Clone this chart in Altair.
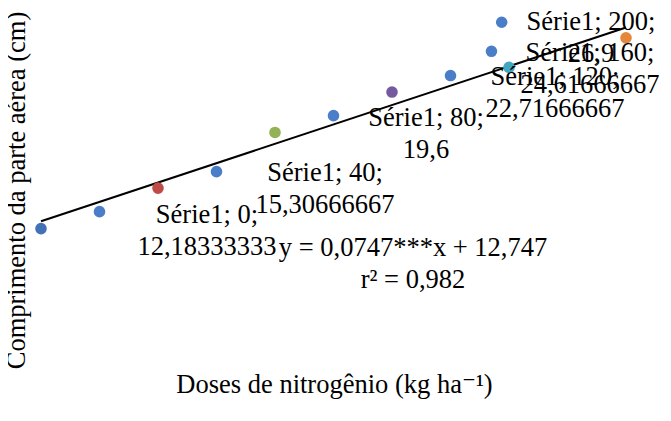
import altair as alt
import pandas as pd

# Série1 (colour-varied points, basis of the trend line)
doses = [0, 40, 80, 120, 160, 200]
comprimento = [12.18333333, 15.30666667, 19.6, 22.71666667, 24.61666667, 26.9]
serie_colors = ["#4172b5", "#be4b48", "#93b155", "#75599f", "#43a6bf", "#e5873a"]

# additional blue points
extra_doses = [20, 60, 100, 140, 154, 157.5]
extra_comprimento = [13.49, 16.58, 20.90, 23.99, 25.86, 28.1]
extra_color = "#4a7ec8"

# data-label placement (pixel offsets from each point to the first text line)
label_dx = [166, 167, 151, 163, 81, -35]
label_dy = [-14, -15.5, -14.5, -15, -14, -16]

equation_text = "y = 0,0747***x + 12,747\nr² = 0,982"
x_title = "Doses de nitrogênio (kg ha⁻¹)"
y_title = "Comprimento da parte aérea (cm)"

FONT = "Liberation Serif, Times New Roman, DejaVu Serif, serif"
FS = 26.5

serie = pd.DataFrame({"x": doses, "y": comprimento, "c": serie_colors})
serie["label"] = [f"Série1; {d};\n{str(v).replace('.', ',')}" for d, v in zip(doses, comprimento)]
extra = pd.DataFrame({"x": extra_doses, "y": extra_comprimento, "c": [extra_color] * len(extra_doses)})

xscale = alt.Scale(domain=[0, 200], nice=False, zero=False)
yscale = alt.Scale(domain=[1.2, 29.2], nice=False, zero=False)


def xenc():
    return alt.X("x:Q", scale=xscale, axis=alt.Axis(
        title=x_title, domain=False, ticks=False, labels=False, grid=False,
        titleFont=FONT, titleFontSize=FS, titleFontWeight="normal", titleColor="black",
        titleX=293, titleY=21, titleBaseline="alphabetic", titleAlign="center"))


def yenc():
    return alt.Y("y:Q", scale=yscale, axis=alt.Axis(
        title=y_title, domain=False, ticks=False, labels=False, grid=False,
        titleFont=FONT, titleFontSize=FS, titleFontWeight="normal", titleColor="black",
        titleX=-17, titleY=182, titleBaseline="alphabetic", titleAlign="center", titleAngle=270))


trend = alt.Chart(serie).transform_regression("x", "y", extent=[0, 200]).mark_line(
    color="black", strokeWidth=2).encode(x=xenc(), y=yenc())

extra_pts = alt.Chart(extra).mark_circle(size=135, opacity=1).encode(
    x=xenc(), y=yenc(), color=alt.Color("c:N", scale=None))

serie_pts = alt.Chart(serie).mark_circle(size=135, opacity=1).encode(
    x=xenc(), y=yenc(), color=alt.Color("c:N", scale=None))

layers = [trend, extra_pts, serie_pts]
for d, dx, dy in zip(doses, label_dx, label_dy):
    layers.append(
        alt.Chart(serie).transform_filter(alt.datum.x == d).mark_text(
            dx=dx, dy=dy, align="center", baseline="middle", lineBreak="\n",
            font=FONT, fontSize=FS, lineHeight=32, color="black"
        ).encode(x=xenc(), y=yenc(), text="label:N")
    )

eq = alt.Chart(pd.DataFrame({"t": [equation_text]})).mark_text(
    align="center", baseline="middle", lineBreak="\n", font=FONT, fontSize=FS,
    lineHeight=32, color="black"
).encode(x=alt.value(372), y=alt.value(240), text="t:N")
layers.append(eq)

chart = alt.layer(*layers).properties(
    width=585, height=363,
    autosize=alt.AutoSizeParams(type="none"),
    padding={"left": 33, "top": 0, "right": 37, "bottom": 42},
).configure(background="white").configure_view(stroke=None)

chart.save("out.html", embed_options={"renderer": "svg", "actions": False})
